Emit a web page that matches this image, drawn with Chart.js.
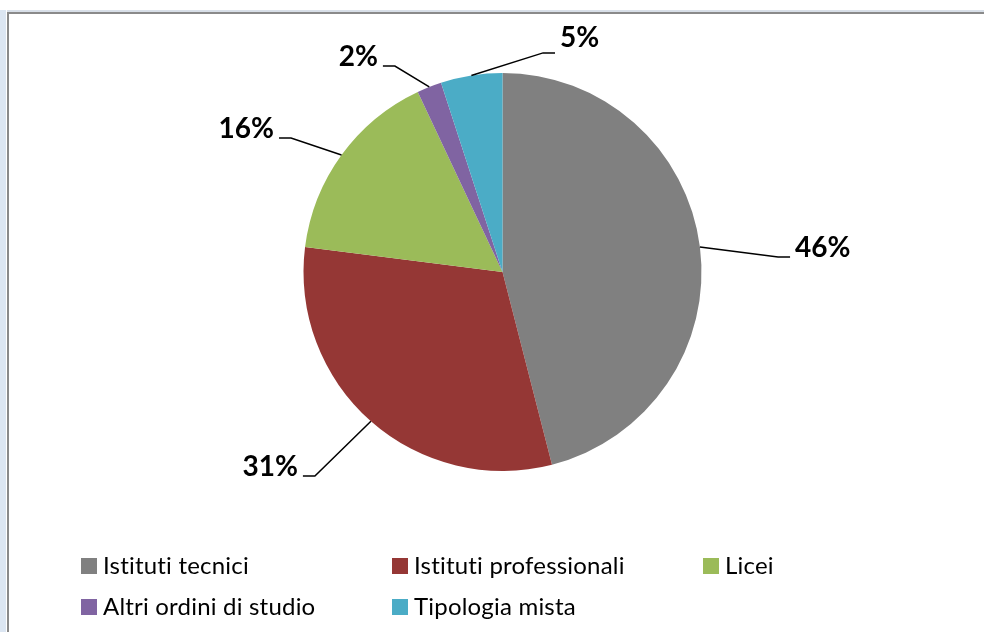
<!DOCTYPE html>
<html>
<head>
<meta charset="utf-8">
<script src="https://cdn.jsdelivr.net/npm/chart.js@4/dist/chart.umd.min.js"></script>
<style>
  html, body { margin: 0; padding: 0; background: #fff; overflow: hidden; }
  body { width: 984px; height: 632px; position: relative; }
  .side { position: absolute; left: 0; top: 10px; width: 6px; bottom: 0; background: #dce6f2; }
  .frame { position: absolute; left: 7px; top: 12px; right: 0; bottom: 0;
           border-left: 2px solid #8a8a8a; border-top: 2px solid #8a8a8a;
           box-shadow: 0 -2px 0 #d8dfe8; background: #fff; }
  .wrap { position: absolute; left: 0; top: 0; width: 984px; height: 632px; }
</style>
</head>
<body>
<div class="side"></div>
<div class="frame"></div>
<div class="wrap"><canvas id="myChart"></canvas></div>
<script>
// shares by type of school (percent)
const categories = ['Istituti tecnici', 'Istituti professionali', 'Licei', 'Altri ordini di studio', 'Tipologia mista']
const shares = [46, 31, 16, 2, 5]
const colors = ['#808080', '#953735', '#9bbb59', '#8064a2', '#4bacc6']

// where each leader line ends, in units of the pie radius from its centre
const labelEnds = [
    { dx: 1.445, dy: -0.075, side: 'right', lift: 0 },
    { dx: -1.003, dy: 1.025, side: 'left', lift: 0 },
    { dx: -1.123, dy: -0.673, side: 'left', lift: 0 },
    { dx: -0.601, dy: -1.035, side: 'left', lift: 0 },
    { dx: 0.264, dy: -1.101, side: 'right', lift: 6 },
]

const leaderLabels = {
    id: 'leaderLabels',
    afterDatasetsDraw(chart) {
        const ctx = chart.ctx
        const arcs = chart.getDatasetMeta(0).data
        ctx.save()
        ctx.strokeStyle = '#000'
        ctx.lineWidth = 1.5
        ctx.fillStyle = '#000'
        ctx.font = 'bold 28px Lato'
        ctx.textBaseline = 'alphabetic'
        arcs.forEach((arc, i) => {
            const { x, y, startAngle, endAngle, outerRadius } = arc.getProps(['x', 'y', 'startAngle', 'endAngle', 'outerRadius'], true)
            const mid = (startAngle + endAngle) / 2
            const sx = x + Math.cos(mid) * outerRadius
            const sy = y + Math.sin(mid) * outerRadius
            const pos = labelEnds[i]
            const ex = x + pos.dx * outerRadius
            const ey = y + pos.dy * outerRadius
            const dir = pos.side === 'right' ? 1 : -1
            ctx.beginPath()
            ctx.moveTo(sx, sy)
            ctx.lineTo(ex - dir * 12, ey)
            ctx.lineTo(ex, ey)
            ctx.stroke()
            ctx.textAlign = pos.side === 'right' ? 'left' : 'right'
            ctx.fillText(Math.round(shares[i]) + '%', ex + dir * 5, ey - pos.lift)
        })
        ctx.restore()
    }
}

// three-column legend under the pie
const gridLegend = {
    id: 'gridLegend',
    afterDraw(chart) {
        const ctx = chart.ctx
        const ds = chart.data.datasets[0]
        ctx.save()
        ctx.font = '24px Lato'
        ctx.letterSpacing = '0.2px'   // also keeps Lato from joining "ti"
        ctx.textAlign = 'left'
        ctx.textBaseline = 'middle'
        chart.data.labels.forEach((label, i) => {
            const col = i % 3
            const row = Math.floor(i / 3)
            const bx = 81 + col * 311
            const cy = 566 + row * 41
            ctx.fillStyle = ds.backgroundColor[i]
            ctx.fillRect(bx, cy - 8, 16, 16)
            ctx.fillStyle = '#000'
            ctx.fillText(label, bx + 22, cy)
        })
        ctx.restore()
    }
}

new Chart(document.getElementById('myChart'), {
    type: 'pie',
    data: {
        labels: categories,
        datasets: [{
            data: shares,
            backgroundColor: colors,
            borderWidth: 0,
        }]
    },
    options: {
        responsive: true,
        maintainAspectRatio: false,
        animation: false,
        layout: {
            padding: { left: 303.5, right: 282.5, top: 73, bottom: 161 }
        },
        plugins: {
            legend: { display: false },
            tooltip: { enabled: false },
        }
    },
    plugins: [leaderLabels, gridLegend]
})
</script>
</body>
</html>
